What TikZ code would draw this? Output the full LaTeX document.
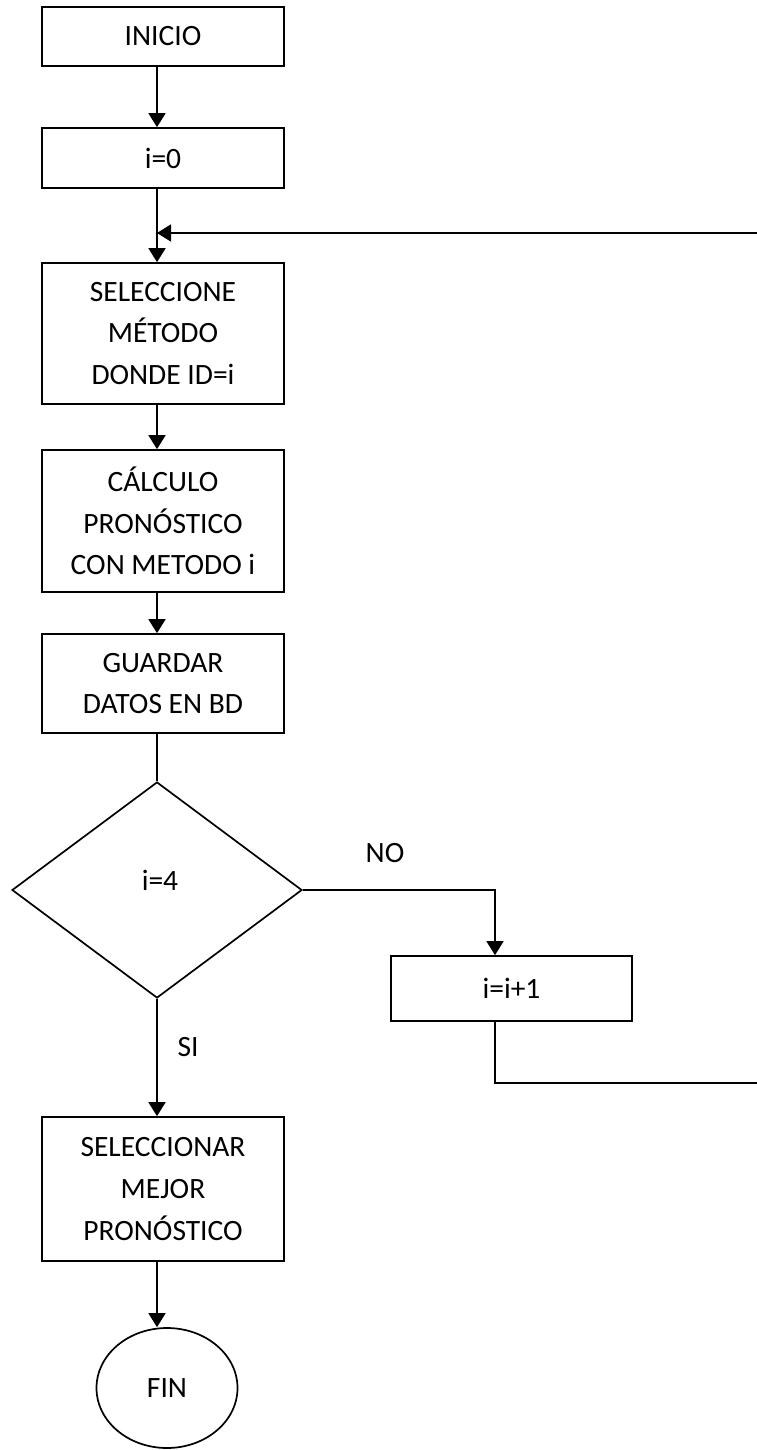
\documentclass[tikz,border=0pt]{standalone}
\usepackage{fontspec}
\setmainfont{Carlito}
\usetikzlibrary{shapes.geometric,arrows.meta}
\begin{document}
\begin{tikzpicture}[x=1pt,y=-1pt,
  every node/.style={font=\fontsize{29.5}{41.7}\selectfont, align=center, inner sep=0pt},
  stepbox/.style={draw, line width=1.7pt, minimum width=242pt},
  decision/.style={draw, diamond, line width=1.7pt, minimum width=290pt, minimum height=216pt, aspect=1.34},
  terminal/.style={draw, ellipse, line width=1.7pt, minimum width=141pt, minimum height=120pt},
  flow/.style={line width=1.7pt, -{Triangle[length=14pt,width=17pt]}},
  plain/.style={line width=1.7pt}]
\useasboundingbox (0,0) rectangle (756,1450);

% main column axis
\coordinate (axis) at (157,0);

\node[stepbox, minimum height=59pt]  (inicio) at (163,36.5)  {INICIO};
\node[stepbox, minimum height=60pt]  (init)   at (163,158)   {i=0};
\node[stepbox, minimum height=141pt] (sel)    at (163,333.5) {SELECCIONE\\MÉTODO\\DONDE ID=i};
\node[stepbox, minimum height=142pt] (calc)   at (163,521)   {CÁLCULO\\PRONÓSTICO\\CON METODO i};
\node[stepbox, minimum height=99pt]  (save)   at (163,683.5) {GUARDAR\\DATOS EN BD};
\node[decision] (test) at (157,890) {};
\node at (160,880) {i=4};
\node[stepbox, minimum width=241pt, minimum height=65pt] (inc) at (511.5,988.5) {i=i+1};
\node[stepbox, minimum height=144pt] (best) at (163,1189) {SELECCIONAR\\MEJOR\\PRONÓSTICO};
\node[terminal] (fin) at (167,1388) {FIN};

\node (no) at (385,853) {NO};
\node (si) at (188,1047) {SI};

% loop coordinates
\coordinate (incx)  at (495,0);
\coordinate (join)  at (157,233);
\coordinate (rtop)  at (759,233);
\coordinate (rbot)  at (759,1083);
\coordinate (dbot)  at (495,1083);

% connectors
\draw[flow] (inicio.south -| axis) -- (init.north -| axis);
\draw[flow] (init.south -| axis) -- (sel.north -| axis);
\draw[flow] (sel.south -| axis) -- (calc.north -| axis);
\draw[flow] (calc.south -| axis) -- (save.north -| axis);
\draw[plain] (save.south -| axis) -- (test.north);
\draw[flow] (test.east) -- (test.east -| incx) -- (inc.north -| incx);
\draw[flow] (test.south) -- (best.north -| axis);
\draw[flow] (best.south -| axis) -- (fin.north -| axis);
\draw[flow] (inc.south -| incx) -- (dbot) -- (rbot) -- (rtop) -- (join);
\end{tikzpicture}
\end{document}
